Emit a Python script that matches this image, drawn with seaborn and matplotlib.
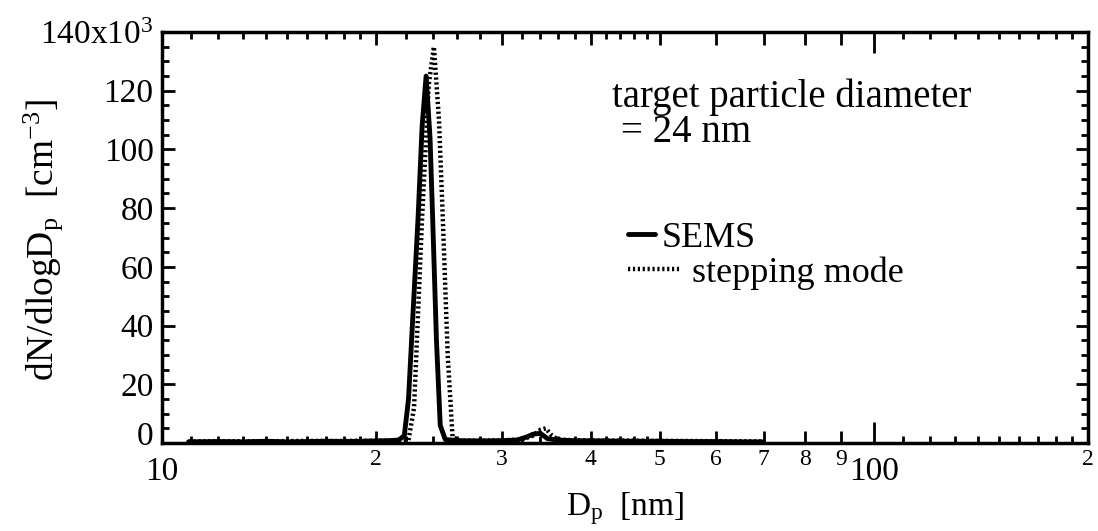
import matplotlib
matplotlib.use("Agg")
import matplotlib.pyplot as plt
import matplotlib.transforms as mtransforms
import seaborn as sns
import pandas as pd

# SEMS scan (solid)
sems_dp = [10.9, 12, 13, 14, 15, 16, 17, 18, 19, 20, 20.8, 21.5, 21.9, 22.2, 22.5, 22.9,
           23.2, 23.5, 23.8, 24.0, 24.3, 24.6, 25.0, 26, 28, 30, 31.5, 32.5, 33.2,
           34.0, 34.8, 36, 38, 42, 46, 50, 55, 60, 65, 70]
sems_conc = [0.4, 0.5, 0.4, 0.6, 0.4, 0.5, 0.6, 0.5, 0.6, 0.7, 0.8, 1.0, 2.5, 15, 42, 77,
             108, 125, 104, 77, 35, 6, 1.2, 0.8, 0.7, 0.8, 1.0, 2.0, 3.0,
             3.3, 1.5, 1.0, 0.8, 0.7, 0.6, 0.6, 0.5, 0.5, 0.4, 0.4]

# stepping mode (dotted)
step_dp = [10.9, 12, 14, 16, 18, 20, 21.5, 22.2, 22.6, 23.2, 23.7, 24.1, 24.5,
           24.8, 25.2, 25.6, 26.2, 28, 30, 32, 33.2, 34.0, 34.6, 35.3, 36,
           38, 42, 46, 50, 55, 60, 65, 70]
step_conc = [0.5, 0.6, 0.6, 0.7, 0.7, 0.8, 0.8, 1.0, 12, 77, 122, 135, 110,
             77, 30, 2, 0.8, 0.8, 0.9, 1.2, 2.5, 4.5, 5.0, 2.5, 1.2,
             0.9, 0.8, 0.8, 0.7, 0.7, 0.6, 0.6, 0.5]

x_major = [10, 20, 30, 40, 50, 60, 70, 80, 90, 100, 200]
x_major_labels = ["10", "2", "3", "4", "5", "6", "7", "8", "9", "100", "2"]
x_minor = [11, 12, 13, 14, 15, 16, 17, 18, 19, 22, 24, 26, 28, 32, 34, 36, 38,
           42, 44, 46, 48, 110, 120, 130, 140, 150, 160, 170, 180, 190]
y_major = [0, 20, 40, 60, 80, 100, 120, 140]
y_major_labels = ["0", "20", "40", "60", "80", "100", "120", "140x10$^3$"]

sns.set_theme(style="ticks")
plt.rcParams['font.family'] = ['Liberation Serif', 'DejaVu Serif']
plt.rcParams['mathtext.fontset'] = 'custom'
plt.rcParams['mathtext.rm'] = 'Liberation Serif'
plt.rcParams['mathtext.it'] = 'Liberation Serif:italic'
for k in ['text.color', 'axes.labelcolor', 'xtick.color', 'ytick.color', 'axes.edgecolor']:
    plt.rcParams[k] = 'black'

df_sems = pd.DataFrame({"dp": sems_dp, "conc": sems_conc})
df_step = pd.DataFrame({"dp": step_dp, "conc": step_conc})

fig = plt.figure(figsize=(10.98, 5.31), dpi=100)
ax = fig.add_axes([0.1475, 0.1657, 0.8435, 0.774])

sns.lineplot(data=df_sems, x="dp", y="conc", ax=ax, color="black", lw=3.5,
             estimator=None, sort=False, label="SEMS")
sns.lineplot(data=df_step, x="dp", y="conc", ax=ax, color="black", lw=3.2,
             estimator=None, sort=False, label="stepping mode",
             linestyle=(0, (0.5, 0.6)))

ax.set_xscale("log")
ax.set_xlim(10, 200)
ax.set_ylim(0, 140)

ax.set_xticks(x_major)
ax.set_xticklabels(x_major_labels)
ax.set_xticks(x_minor, minor=True)
ax.set_xticklabels([], minor=True)
ax.set_yticks(y_major)
ax.set_yticklabels(y_major_labels, fontsize=24)
ax.set_yticks(range(0, 141, 5), minor=True)

ax.tick_params(which="both", direction="in", top=True, right=True, width=2,
               color="black", labelcolor="black")
ax.tick_params(which="major", length=9, pad=6)
ax.tick_params(which="minor", length=5)
ax.tick_params(axis="x", which="major", labelsize=17, pad=4)

for tick, lab in zip(ax.xaxis.get_major_ticks(), x_major_labels):
    if lab in ("10", "100"):
        tick.label1.set_fontsize(24)
        tick.set_pad(10)
    if lab == "100":
        tick.tick1line.set_markersize(15)
        tick.tick2line.set_markersize(15)

# the "0" on the y axis sits a little above the x axis line
zero_lab = ax.yaxis.get_major_ticks()[0].label1
zero_lab.set_transform(zero_lab.get_transform() +
                       mtransforms.ScaledTranslation(0, 7 / 72, fig.dpi_scale_trans))

for sp in ax.spines.values():
    sp.set_linewidth(2.5)
    sp.set_color("black")

ax.set_xlabel(r"$\mathrm{D_p}$  [nm]", fontsize=24, labelpad=2, color="black")
ax.set_ylabel(r"dN/dlog$\mathrm{D_p}$  [cm$^{\mathrm{-3}}$]", fontsize=27, color="black")
ax.yaxis.set_label_coords(-0.105, 0.494)

ax.text(0.486, 0.8175, "target particle diameter", transform=ax.transAxes,
        fontsize=28, va="baseline", ha="left", color="black")
ax.text(0.496, 0.732, "= 24 nm", transform=ax.transAxes,
        fontsize=28, va="baseline", ha="left", color="black")

h, l = ax.get_legend_handles_labels()
leg1 = ax.legend([h[0]], [l[0]], loc="center left", bbox_to_anchor=(0.503, 0.499),
                 frameon=False, fontsize=26, handlelength=0.75, handletextpad=0.2,
                 borderpad=0, borderaxespad=0, labelcolor="black")
ax.add_artist(leg1)
ax.legend([h[1]], [l[1]], loc="center left", bbox_to_anchor=(0.503, 0.414),
          frameon=False, fontsize=26, handlelength=1.45, handletextpad=0.33,
          borderpad=0, borderaxespad=0, labelcolor="black")

fig.savefig("out.png", dpi=100)
